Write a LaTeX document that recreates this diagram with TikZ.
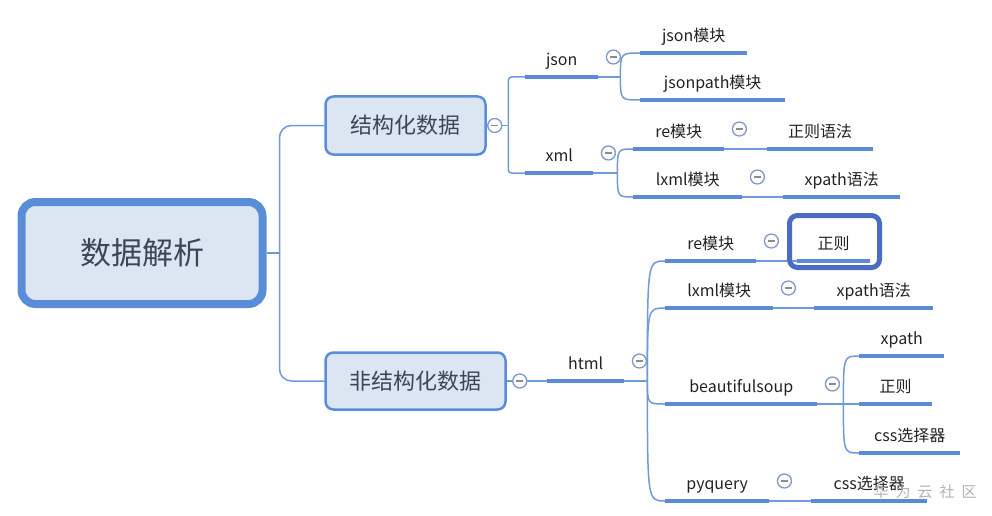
\documentclass[tikz,border=0pt]{standalone}
\usepackage{fontspec}
\setmainfont{Noto Sans CJK SC}

\definecolor{boxBlue}{HTML}{5A8DD8}
\definecolor{boxFill}{HTML}{DCE6F2}
\definecolor{boxText}{HTML}{3B4657}
\definecolor{lineBlue}{HTML}{5B8BD5}
\definecolor{linkBlue}{HTML}{6F9AD8}
\definecolor{foldBlue}{HTML}{7F98CA}
\definecolor{foldGray}{HTML}{8C8C8C}
\definecolor{markBlue}{HTML}{4A6CC4}
\definecolor{labelText}{HTML}{222222}

\begin{document}
\begin{tikzpicture}[x=1pt, y=-1pt,
  rootBox/.style={rectangle, draw=boxBlue, fill=boxFill, line width=8pt, rounded corners=14pt, minimum width=241pt, minimum height=102pt, text=boxText, font=\fontsize{31}{36}\selectfont},
  mainBox/.style={rectangle, draw=boxBlue, fill=boxFill, line width=2.5pt, rounded corners=8pt, minimum height=57pt, text=boxText, font=\fontsize{22}{26}\selectfont},
  topic/.style={inner sep=0pt, anchor=south west, minimum height=30pt, text height=12pt, text depth=4pt, text=labelText, font=\fontsize{16}{19}\selectfont},
  topicLine/.style={draw=lineBlue, line width=4pt},
  link/.style={draw=linkBlue, line width=1.5pt},
  fold/.style={circle, draw=foldBlue, line width=1.3pt, fill=white, minimum size=14pt, inner sep=0pt,
    path picture={\draw[foldGray, line width=1.2pt] ([xshift=-3.5pt]path picture bounding box.center) -- ([xshift=3.5pt]path picture bounding box.center);}},
  markBox/.style={rectangle, draw=markBlue, line width=5pt, rounded corners=8pt, minimum width=90pt, minimum height=52pt}
]
\useasboundingbox (0,0) rectangle (992,516);

% root and main branches
\node (rootRect) [rootBox] at (142,253) {数据解析};
\node (structRect) [mainBox, minimum width=160pt, minimum height=58pt] at (405.5,125.5) {结构化数据};
\node (nonstructRect) [mainBox, minimum width=180pt] at (415.5,381) {非结构化数据};

% structured data
\node (jsonTopic) [topic, minimum width=73pt] at (525,77) {json};
\node (jsonModTopic) [topic, minimum width=107pt] at (640,53) {json模块};
\node (jsonPathTopic) [topic, minimum width=145pt] at (640,100) {jsonpath模块};
\node (xmlTopic) [topic, minimum width=68pt] at (525,173) {xml};
\node (reModATopic) [topic, minimum width=91pt] at (633,149) {re模块};
\node (regexSyntaxTopic) [topic, minimum width=106pt] at (767,149) {正则语法};
\node (lxmlATopic) [topic, minimum width=109pt] at (633,197) {lxml模块};
\node (xpathSyntaxATopic) [topic, minimum width=117pt] at (783,197) {xpath语法};

% unstructured data
\node (htmlTopic) [topic, minimum width=77pt] at (547,381) {html};
\node (reModBTopic) [topic, minimum width=91pt] at (665,261) {re模块};
\node (regexBTopic) [topic, minimum width=73pt] at (797,261) {正则};
\node (lxmlBTopic) [topic, minimum width=108pt] at (665,308) {lxml模块};
\node (xpathSyntaxBTopic) [topic, minimum width=119pt] at (814,308) {xpath语法};
\node (bsTopic) [topic, minimum width=152pt] at (665,404) {beautifulsoup};
\node (bsXpathTopic) [topic, minimum width=85pt] at (859,356) {xpath};
\node (bsRegexTopic) [topic, minimum width=73pt] at (859,404) {正则};
\node (bsCssTopic) [topic, minimum width=101pt] at (859,453) {css选择器};
\node (pqTopic) [topic, minimum width=104pt] at (665,501) {pyquery};
\node (pqCssTopic) [topic, minimum width=116pt] at (811,501) {css选择器};

% fold buttons
\node (structFold) [fold] at ([xshift=8pt]structRect.east) {};
\node (nonstructFold) [fold] at ([xshift=13pt]nonstructRect.east) {};
\foreach \t in {json,xml,reModA,lxmlA,html,reModB,lxmlB,bs,pq}
  \node (\t Fold) [fold] at ([xshift=15pt, yshift=20pt]\t Topic.south east) {};

% connectors
\coordinate (rootFork) at ([xshift=13pt]rootRect.east);
\draw[link] (rootRect.east) -- (rootFork);
\draw[link, rounded corners=12pt] (rootFork) |- (structRect.west);
\draw[link, rounded corners=12pt] (rootFork) |- (nonstructRect.west);

\draw[link] (structRect.east) -- (structFold.west);
\draw[link] (structFold.east) -- ++(6,0) coordinate (structFork);
\draw[link, rounded corners=3pt] (structFork) |- (jsonTopic.south west);
\draw[link, rounded corners=3pt] (structFork) |- (xmlTopic.south west);

\draw[link] (jsonTopic.south east) -- ++(22,0) coordinate (jsonFork);
\draw[link] (jsonFork) .. controls (jsonFork |- jsonModTopic.south west) .. (jsonModTopic.south west);
\draw[link] (jsonFork) .. controls (jsonFork |- jsonPathTopic.south west) .. (jsonPathTopic.south west);

\draw[link] (xmlTopic.south east) -- ++(24,0) coordinate (xmlFork);
\draw[link] (xmlFork) .. controls (xmlFork |- reModATopic.south west) .. (reModATopic.south west);
\draw[link] (xmlFork) .. controls (xmlFork |- lxmlATopic.south west) .. (lxmlATopic.south west);
\draw[link] (reModATopic.south east) -- (regexSyntaxTopic.south west);
\draw[link] (lxmlATopic.south east) -- (xpathSyntaxATopic.south west);

\draw[link] (nonstructRect.east) -- (nonstructFold.west);
\draw[link] (nonstructFold.east) -- (htmlTopic.south west);

\draw[link] (htmlTopic.south east) -- ++(23,0) coordinate (htmlFork);
\draw[link] (htmlFork) .. controls (htmlFork |- reModBTopic.south west) .. (reModBTopic.south west);
\draw[link] (htmlFork) .. controls (htmlFork |- lxmlBTopic.south west) .. (lxmlBTopic.south west);
\draw[link] (htmlFork) .. controls (htmlFork |- bsTopic.south west) .. (bsTopic.south west);
\draw[link] (htmlFork) .. controls (htmlFork |- pqTopic.south west) .. (pqTopic.south west);
\draw[link] (reModBTopic.south east) -- (regexBTopic.south west);
\draw[link] (lxmlBTopic.south east) -- (xpathSyntaxBTopic.south west);

\draw[link] (bsTopic.south east) -- ++(26,0) coordinate (bsFork);
\draw[link] (bsFork) .. controls (bsFork |- bsXpathTopic.south west) .. (bsXpathTopic.south west);
\draw[link] (bsFork) -- (bsRegexTopic.south west);
\draw[link] (bsFork) .. controls (bsFork |- bsCssTopic.south west) .. (bsCssTopic.south west);
\draw[link] (pqTopic.south east) -- (pqCssTopic.south west);

% underlines
\foreach \t in {json,jsonMod,jsonPath,xml,reModA,regexSyntax,lxmlA,xpathSyntaxA,html,reModB,regexB,lxmlB,xpathSyntaxB,bs,bsXpath,bsRegex,bsCss,pq,pqCss}
  \draw[topicLine] (\t Topic.south west) -- (\t Topic.south east);

% highlight
\node (regexMark) [markBox] at (834.5,241.5) {};

\node (watermark) [text=gray!60, font=\fontsize{15}{18}\selectfont] at (925,492) {华\hspace{7pt}为\hspace{7pt}云\hspace{7pt}社\hspace{7pt}区};

\end{tikzpicture}
\end{document}
